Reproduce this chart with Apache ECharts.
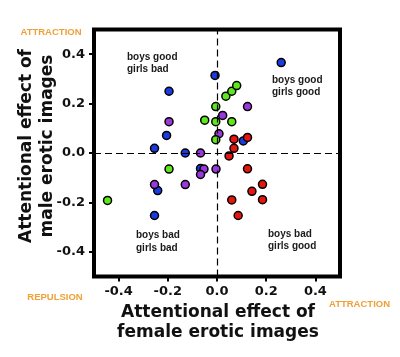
<!DOCTYPE html>
<html>
<head>
<meta charset="utf-8">
<script src="https://cdn.jsdelivr.net/npm/echarts@6/dist/echarts.min.js"></script>
<style>html,body{margin:0;padding:0;background:#fff;}#c{width:400px;height:357px;}</style>
</head>
<body>
<div id="c"></div>
<script>
var tickValues = [-0.4, -0.2, 0, 0.2, 0.4];
var blueData = [[-0.008,0.314],[-0.195,0.25],[-0.205,0.071],[-0.254,0.019],[-0.129,0],[0.261,0.366],[0.107,0.049],[-0.067,-0.063],[-0.241,-0.152],[-0.254,-0.253]];
var purpleData = [[-0.195,0.127],[-0.067,0],[0.023,0.152],[0.008,0.078],[0.124,0.188],[-0.053,-0.065],[-0.067,-0.087],[-0.004,-0.065],[-0.254,-0.128],[-0.129,-0.128]];
var greenData = [[-0.05,0.133],[-0.005,0.188],[-0.005,0.127],[0.06,0.127],[-0.005,0.054],[0.036,0.23],[0.06,0.25],[0.08,0.273],[-0.195,-0.065],[-0.445,-0.192]];
var redData = [[0.069,0.056],[0.069,0.019],[0.049,-0.012],[0.124,0.063],[0.124,-0.064],[0.185,-0.127],[0.142,-0.155],[0.185,-0.189],[0.06,-0.19],[0.086,-0.253]];
var xName = 'Attentional effect of\nfemale erotic images';
var yName = 'Attentional effect of\nmale erotic images';
var quadrantLabels = ['boys good\ngirls bad', 'boys good\ngirls good', 'boys bad\ngirls bad', 'boys bad\ngirls good'];

var chart = echarts.init(document.getElementById('c'), null, {renderer: 'canvas'});
function fmt(v){ return v.toFixed(1); }
function axis(){
  return {
    type: 'value', min: -0.5, max: 0.5,
    axisLine: {show: false, onZero: false},
    splitLine: {show: false},
    axisTick: {show: true, customValues: tickValues, length: 5, inside: false, lineStyle: {color: '#000', width: 2}},
    axisLabel: {show: true, customValues: tickValues, formatter: fmt, margin: 9,
      fontFamily: 'DejaVu Sans', fontWeight: 'bold', fontSize: 13, color: '#111'}
  };
}
function sc(data, color){
  return {type: 'scatter', data: data, symbolSize: 8,
    itemStyle: {color: color, borderColor: '#000', borderWidth: 1.5, opacity: 1}, silent: true};
}
var series = [
  {type: 'scatter', data: [], silent: true,
    markLine: {silent: true, symbol: 'none', animation: false, label: {show: false},
      lineStyle: {color: '#000', width: 1.2, type: [7, 4]},
      data: [{xAxis: 0}, {yAxis: 0}]}},
  sc(blueData, '#1a3be0'),
  sc(purpleData, '#9a38dc'),
  sc(greenData, '#5ee81a'),
  sc(redData, '#e8140f')
];
var qFont = 'bold 10px "Liberation Sans", Arial, sans-serif';
var oFont = 'bold 9.5px "Liberation Sans", Arial, sans-serif';
var nFont = 'bold 17px "DejaVu Sans", sans-serif';
function qText(x, y, t){
  return {type: 'text', x: x, y: y, silent: true, style: {text: t, font: qFont, fill: '#1a1a1a', align: 'left', verticalAlign: 'middle', lineHeight: 12.5}};
}
function oText(x, y, t){
  return {type: 'text', x: x, y: y, silent: true, style: {text: t, font: oFont, fill: '#f0a035', align: 'center', verticalAlign: 'middle'}};
}
chart.setOption({
  animation: false,
  grid: {left: 94, right: 60, top: 29.5, bottom: 80.5, show: true, borderColor: '#000', borderWidth: 4, backgroundColor: 'transparent'},
  xAxis: axis(),
  yAxis: axis(),
  series: series,
  graphic: [
    qText(127, 63.3, quadrantLabels[0]),
    qText(272, 86, quadrantLabels[1]),
    qText(136, 241.7, quadrantLabels[2]),
    qText(268, 240, quadrantLabels[3]),
    oText(51, 32, 'ATTRACTION'),
    oText(55, 297, 'REPULSION'),
    oText(359.5, 304, 'ATTRACTION'),
    {type: 'text', x: 218, y: 322.5, silent: true, style: {text: xName, font: nFont, fill: '#111', align: 'center', verticalAlign: 'middle', lineHeight: 19.5}},
    {type: 'text', x: 37, y: 146, rotation: Math.PI / 2, silent: true, style: {text: yName, font: nFont, fill: '#111', align: 'center', verticalAlign: 'middle', lineHeight: 21}}
  ]
});
</script>
</body>
</html>
